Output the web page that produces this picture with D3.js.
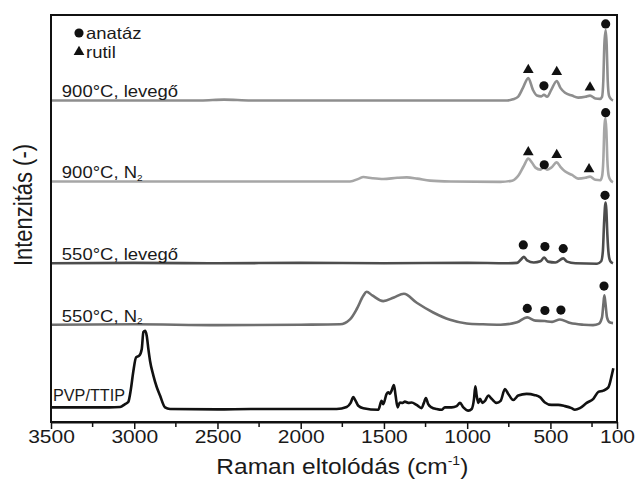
<!DOCTYPE html>
<html>
<head>
<meta charset="utf-8">
<script src="https://cdn.jsdelivr.net/npm/d3@7"></script>
<style>
  body { margin: 0; background: #fff; }
  svg { display: block; }
  text { font-family: "Liberation Sans", Arial, Helvetica, sans-serif; fill: #1a1a1a; }
</style>
</head>
<body>
<svg id="chart" width="643" height="481"></svg>
<script>
// Raman shift axis (cm-1)
const xTickValues = [3500, 3000, 2500, 2000, 1500, 1000, 500, 100];
const xMinorTickValues = [3250, 2750, 2250, 1750, 1250, 750, 250];

// Sample names, bottom to top
const sampleLabels = ["PVP/TTIP", "550°C, N2", "550°C, levegő", "900°C, N2", "900°C, levegő"];
// Vertical stacking offset of each spectrum (a.u.)
const sampleOffsets = [3.2, 23.9, 39.0, 59.1, 79.0];

// Spectra: [Raman shift (cm-1), intensity (a.u.)]
const pvpTtip = [
  [3500,0.4],[3300,0.4],[3150,0.4],[3085,0.5],[3055,1.2],[3036,1.7],[3020,4.9],[3006,9.1],
  [2989,12.7],[2970,13.1],[2955,14.7],[2945,18.9],[2935,19.2],[2925,18.0],[2915,14.7],
  [2905,11.8],[2885,8.2],[2865,5.4],[2845,3.3],[2815,0.4],[2785,0],[2500,-0.1],[2300,0],
  [2000,0],[1784,0],[1724,0.5],[1700,1.5],[1684,2.9],[1670,2.0],[1654,0.8],[1624,0.2],
  [1534,-0.2],[1514,2.0],[1504,1.2],[1484,3.7],[1474,4.1],[1464,3.7],[1454,4.5],[1440,5.9],
  [1430,3.3],[1418,0.4],[1404,1.6],[1388,1.5],[1374,1.8],[1354,1.5],[1334,1.6],[1304,1.0],
  [1274,0.2],[1260,1.5],[1248,2.7],[1234,1.2],[1214,0.4],[1184,0],[1154,-0.2],[1134,0.4],
  [1093,0.4],[1063,0.7],[1043,1.5],[1023,0.4],[993,-0.4],[973,0],[959,2.5],[951,5.6],
  [943,3.3],[933,1.5],[923,2.5],[909,1.5],[893,2.0],[873,3.3],[853,2.5],[823,1.5],[799,2.0],
  [773,4.9],[753,3.7],[723,2.2],[693,3.3],[643,3.7],[593,3.4],[563,2.9],[533,1.6],[493,1.0],
  [453,1.0],[413,0.7],[373,0.2],[353,-0.2],[323,0.2],[282,1.5],[242,2.5],[212,4.2],[182,4.5],
  [152,5.3],[132,8.2],[122,10.0]
];
const c550N2 = [
  [3500,0],[3000,0.1],[2500,-0.1],[2000,0],[1764,0.1],[1704,1.3],[1664,3.8],[1624,7.1],
  [1604,8.1],[1570,7.2],[1504,5.8],[1440,6.7],[1380,7.6],[1303,5.4],[1204,3.0],[1103,1.2],
  [1003,0.3],[905,0.1],[800,0],[700,0.6],[640,1.8],[590,1.0],[533,0.9],[490,0.7],[443,1.3],
  [380,0.4],[300,0],[244,-0.1],[210,0.2],[190,1.8],[182,5.0],[176,7.2],[170,5.5],[160,1.8],
  [145,0.6],[124,0.4]
];
const c550Air = [
  [3500,0],[3000,0.1],[2500,0],[2000,0.1],[1500,0],[1000,0.1],[760,0],[700,0.1],[675,1.0],
  [659,1.6],[640,0.7],[600,0.2],[560,0.5],[537,1.4],[515,0.4],[470,0.2],[423,1.2],[400,0.4],
  [350,0],[220,-0.1],[195,0.5],[185,2.9],[178,9.6],[172,14.0],[168,14.9],[164,13.2],[158,7.1],
  [150,2.2],[140,0.5],[124,0]
];
const c900N2 = [
  [3500,0],[3000,0],[2500,0],[2000,0],[1704,0],[1650,0.7],[1624,1.1],[1570,0.8],[1504,0.6],
  [1420,0.9],[1363,1.0],[1300,0.7],[1223,0.2],[1100,0],[800,-0.1],[730,0.2],[690,1.6],
  [660,3.8],[633,5.6],[610,4.6],[590,3.4],[560,2.9],[540,3.5],[520,2.9],[495,3.4],[462,4.7],
  [440,3.6],[413,2.5],[370,1.6],[334,0.7],[290,0.9],[262,1.2],[230,0.4],[200,0.3],[190,1.2],
  [182,5.3],[176,13.2],[170,15.6],[164,12.7],[158,5.3],[150,1.4],[140,0.4],[124,-0.2]
];
const c900Air = [
  [3500,0],[3000,0],[2600,0],[2460,0.2],[2300,0],[2000,0],[1500,0],[1000,0],[760,0],
  [725,0.3],[695,0.9],[665,3.1],[633,5.5],[605,2.6],[581,1.2],[555,1.0],[539,1.4],[520,0.9],
  [495,2.6],[462,4.8],[440,3.1],[412,1.9],[370,1.2],[334,0.7],[290,0.9],[262,1.2],[230,0.5],
  [202,0.4],[190,0.9],[182,5.1],[176,13.7],[168,17.3],[162,13.7],[156,5.1],[148,1.2],
  [135,0.3],[124,0]
];
const spectra = [pvpTtip, c550N2, c550Air, c900N2, c900Air];

// Phase assignments: [phase, Raman shift, height above the spectrum baseline]
const peaks550N2 = [["anatase",178,9.5],["anatase",639,4.0],["anatase",533,3.5],["anatase",437,3.6]];
const peaks550Air = [["anatase",172,16.7],["anatase",663,4.5],["anatase",533,4.1],["anatase",423,3.6]];
const peaks900N2 = [["anatase",168,16.9],["rutile",633,7.2],["anatase",537,4.1],["rutile",462,6.5],["rutile",268,3.0]];
const peaks900Air = [["anatase",168,18.8],["rutile",633,7.5],["anatase",539,3.6],["rutile",462,7.0],["rutile",262,3.2]];
const peakMarks = [[], peaks550N2, peaks550Air, peaks900N2, peaks900Air];

const legendLabels = [["anatase","anatáz"],["rutile","rutil"]];

// ---- drawing ----
const lineColors = ["#111111", "#6f6f6f", "#4d4d4d", "#a6a6a6", "#8e8e8e"];
const margin = {left: 51, right: 26, top: 15, bottom: 59};
const W = 643, H = 481;
const svg = d3.select("#chart");

const x = d3.scaleLinear().domain([3500, 100]).range([margin.left, W - margin.right]);
const y = d3.scaleLinear().domain([0, 100]).range([H - margin.bottom, margin.top]);

const line = off => d3.line()
  .x(d => x(d[0]))
  .y(d => y(d[1] + off))
  .curve(d3.curveMonotoneX);

// spectra
svg.append("g").selectAll("path")
  .data(spectra)
  .join("path")
  .attr("fill", "none")
  .attr("stroke", (d, i) => lineColors[i])
  .attr("stroke-width", 2.6)
  .attr("stroke-linejoin", "round")
  .attr("d", (d, i) => line(sampleOffsets[i])(d));

// phase markers
const symFor = p => p === "anatase"
  ? d3.symbol(d3.symbolCircle, 66)()
  : d3.symbol(d3.symbolTriangle, 50)();
peakMarks.forEach((marks, i) => {
  svg.append("g").selectAll("path")
    .data(marks)
    .join("path")
    .attr("d", d => symFor(d[0]))
    .attr("fill", "#111")
    .attr("transform", d => `translate(${x(d[1])},${y(d[2] + sampleOffsets[i])})`);
});

// text helper: slightly condensed vertically
const SY = 0.88;
function label(g, tx, ty, size) {
  return g.append("text")
    .attr("transform", `translate(${tx},${ty}) scale(1,${SY})`)
    .attr("font-size", size);
}

// sample labels
const labelsG = svg.append("g");
sampleLabels.forEach((name, i) => {
  const ty = i === 0 ? y(sampleOffsets[0]) - 8 : y(sampleOffsets[i]) - 3;
  const tx = i === 0 ? x(3488) : x(3435);
  const t = label(labelsG, tx, ty, 18.5);
  if (name.endsWith("N2")) {
    t.append("tspan").text(name.slice(0, -1));
    t.append("tspan").attr("font-size", 10).attr("dy", 3).text("2");
  } else {
    t.text(name);
  }
  if (i === 0) t.attr("textLength", 72).attr("lengthAdjust", "spacingAndGlyphs");
});

// legend
const legG = svg.append("g");
legendLabels.forEach((d, i) => {
  const ly = 33 + i * 19;
  legG.append("path")
    .attr("d", symFor(d[0]))
    .attr("fill", "#111")
    .attr("transform", `translate(79,${ly})`);
  label(legG, 86, ly + 6, 18.5).text(d[1]);
});

// frame
svg.append("rect")
  .attr("x", margin.left).attr("y", margin.top)
  .attr("width", W - margin.left - margin.right)
  .attr("height", H - margin.top - margin.bottom)
  .attr("fill", "none").attr("stroke", "#111").attr("stroke-width", 2);

// bottom axis: major and minor ticks pointing outward
const axisG = svg.append("g").attr("transform", `translate(0,${H - margin.bottom})`);
axisG.call(d3.axisBottom(x).tickValues(xTickValues).tickSize(7).tickSizeOuter(0).tickFormat(d3.format("d")))
  .call(g => g.select(".domain").attr("stroke-width", 2).attr("stroke", "#111"))
  .call(g => g.selectAll(".tick line").attr("stroke-width", 1.5).attr("stroke", "#111"))
  .call(g => g.selectAll(".tick text")
    .attr("font-size", 21).attr("font-family", "Liberation Sans, Arial, sans-serif")
    .attr("fill", "#1a1a1a").attr("y", 9).attr("dy", "0.71em")
    .attr("transform", `scale(1,${SY})`));
axisG.append("g").selectAll("line")
  .data(xMinorTickValues)
  .join("line")
  .attr("x1", d => x(d)).attr("x2", d => x(d))
  .attr("y1", 0).attr("y2", 5)
  .attr("stroke", "#111").attr("stroke-width", 1.5);

// axis titles
const xt = svg.append("text")
  .attr("transform", `translate(${x(1750)},${H - 7}) scale(1,${SY})`)
  .attr("text-anchor", "middle")
  .attr("font-size", 24.5);
xt.append("tspan").text("Raman eltolódás (cm");
xt.append("tspan").attr("font-size", 14).attr("dy", -10).text("-1");
xt.append("tspan").attr("dy", 10).text(")");

svg.append("text")
  .attr("transform", `translate(32,205) rotate(-90) scale(${SY},1)`)
  .attr("text-anchor", "middle")
  .attr("font-size", 25)
  .text("Intenzitás (-)");
</script>
</body>
</html>
